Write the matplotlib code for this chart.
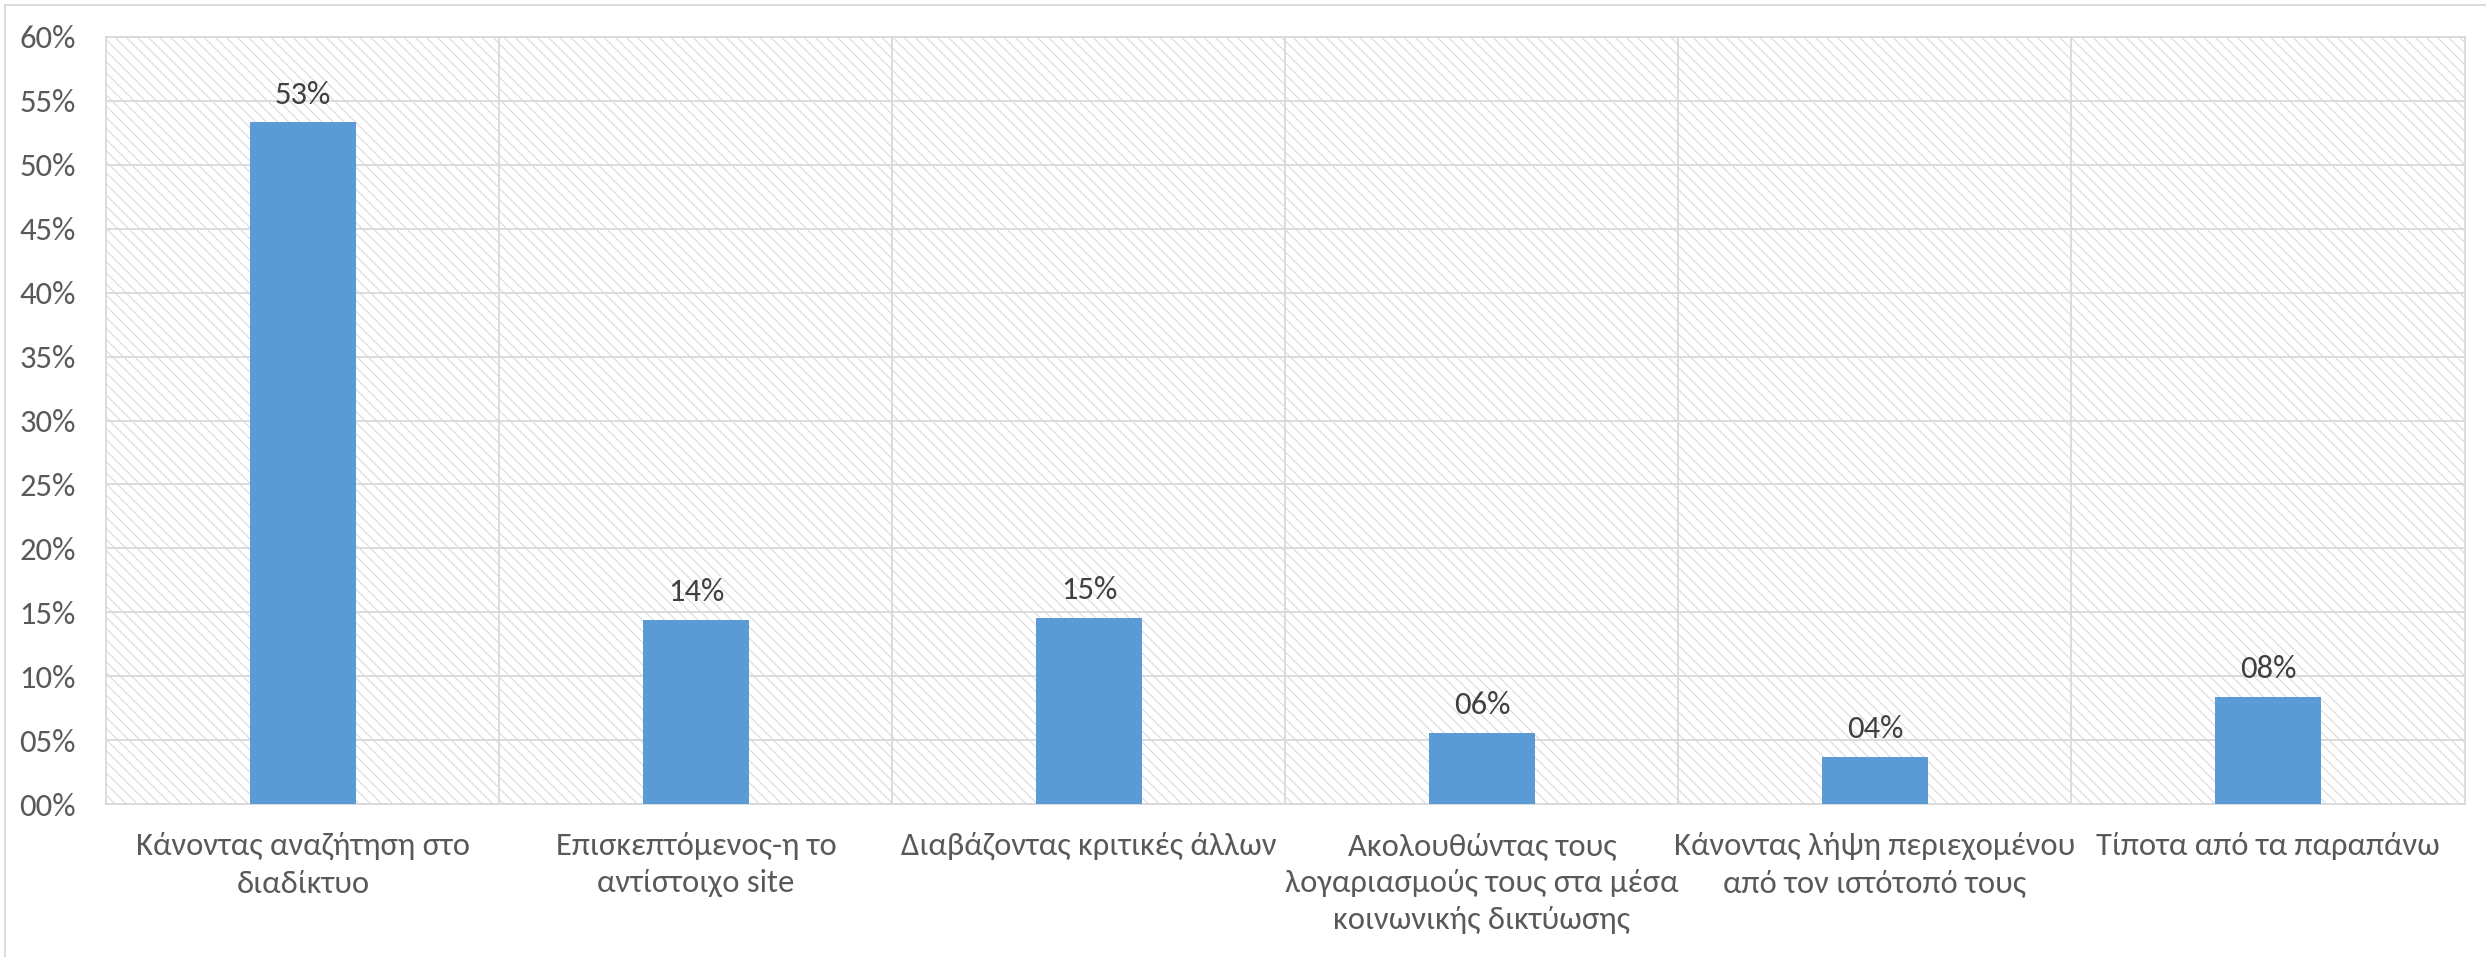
import matplotlib
matplotlib.use("Agg")
import matplotlib.pyplot as plt
from matplotlib.patches import Rectangle
from matplotlib.lines import Line2D
from matplotlib.ticker import FuncFormatter, MultipleLocator, FixedLocator

categories = [
    "Κάνοντας αναζήτηση στο\nδιαδίκτυο",
    "Επισκεπτόμενος-η το\nαντίστοιχο site",
    "Διαβάζοντας κριτικές άλλων",
    "Ακολουθώντας τους\nλογαριασμούς τους στα μέσα\nκοινωνικής δικτύωσης",
    "Κάνοντας λήψη περιεχομένου\nαπό τον ιστότοπό τους",
    "Τίποτα από τα παραπάνω",
]
values = [53.3, 14.4, 14.6, 5.6, 3.7, 8.4]
labels = ["53%", "14%", "15%", "06%", "04%", "08%"]

plt.rcParams['font.family'] = ['Carlito', 'Open Sans', 'DejaVu Sans']
plt.rcParams['hatch.linewidth'] = 0.7
plt.rcParams['hatch.color'] = '#d6d6d6'

FS = 23.5
W, H = 2486, 957
fig = plt.figure(figsize=(W / 100, H / 100), dpi=100)
ax = fig.add_axes([106.4 / W, 1 - 804.3 / H, (2464.5 - 106.4) / W, (804.3 - 36.7) / H])

grid_c = '#d9d9d9'
ax.add_patch(Rectangle((0, 0), 1, 1, transform=ax.transAxes, facecolor='white',
                       edgecolor='#d6d6d6', hatch='\\\\\\', lw=0, zorder=0))

x = list(range(len(categories)))
ax.bar(x, values, width=0.27, color='#5b9bd5', zorder=3)
for xi, v, lab in zip(x, values, labels):
    ax.annotate(lab, (xi, v), xytext=(0, 10), textcoords='offset points',
                ha='center', va='bottom', fontsize=FS, color='#404040', zorder=4)

ax.set_xlim(-0.5, len(categories) - 0.5)
ax.set_ylim(0, 60)
ax.yaxis.set_major_locator(MultipleLocator(5))
ax.yaxis.set_major_formatter(FuncFormatter(lambda v, p: f"{int(round(v)):02d}%"))
ax.set_xticks(x)
ax.set_xticklabels(categories, fontsize=FS, color='#595959', linespacing=1.4)
ax.xaxis.set_minor_locator(FixedLocator([i + 0.5 for i in range(len(categories) - 1)]))
ax.grid(True, axis='y', which='major', color=grid_c, lw=1.3, zorder=1)
ax.grid(True, axis='x', which='minor', color=grid_c, lw=1.3, zorder=1)
ax.grid(False, axis='x', which='major')
ax.tick_params(axis='both', which='both', length=0)
ax.tick_params(axis='x', pad=20)
ax.tick_params(axis='y', pad=22, labelsize=FS, labelcolor='#595959')
ax.set_axisbelow(True)
for s in ax.spines.values():
    s.set_color(grid_c)
    s.set_linewidth(1.3)
    s.set_zorder(2)

# figure border (top and left visible)
bx, by = 4.5 / W, 1 - 4.5 / H
fig.add_artist(Line2D([bx, 1], [by, by], transform=fig.transFigure, color=grid_c, lw=1.3))
fig.add_artist(Line2D([bx, bx], [0, by], transform=fig.transFigure, color=grid_c, lw=1.3))

fig.savefig("out.png", dpi=100, facecolor='white')
